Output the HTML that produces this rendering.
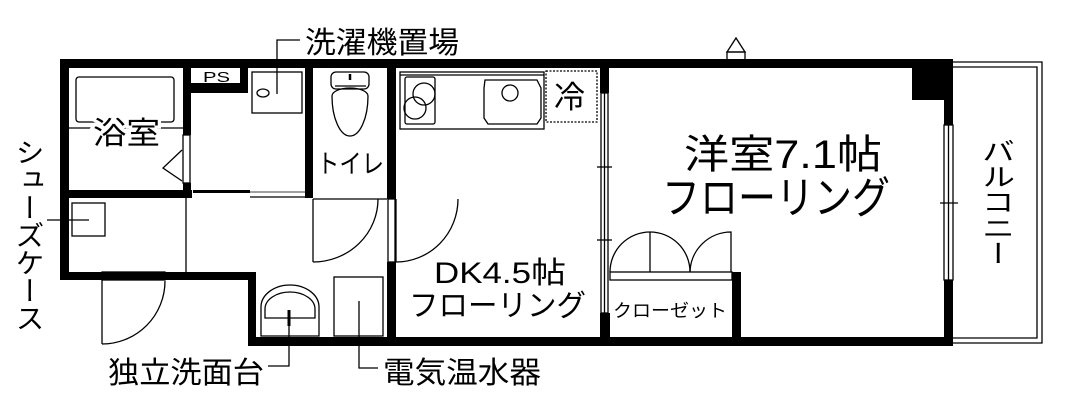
<!DOCTYPE html>
<html><head><meta charset="utf-8"><style>
html,body{margin:0;padding:0;background:#fff;}
svg{display:block}
text{font-family:"Liberation Sans","Noto Sans CJK JP",sans-serif;fill:#000}
</style></head><body>
<svg width="1067" height="401" viewBox="0 0 1067 401" xmlns="http://www.w3.org/2000/svg">
<g fill="#000">
<rect x="60" y="59" width="893" height="9"/>
<rect x="60" y="59" width="9" height="221"/>
<rect x="60" y="272" width="195" height="8"/>
<rect x="248" y="272" width="8" height="74"/>
<rect x="248" y="337" width="705" height="9"/>
<rect x="944" y="59" width="9" height="66"/>
<rect x="944" y="280" width="9" height="66"/>
<rect x="912" y="59" width="41" height="41"/>
<rect x="60" y="190" width="132" height="8"/>
<rect x="183" y="59" width="8" height="76"/>
<rect x="183" y="183" width="8" height="15"/>
<rect x="190" y="83" width="58" height="10"/>
<rect x="240" y="59" width="8" height="34"/>
<rect x="193" y="190" width="57" height="3"/>
<rect x="305" y="59" width="8" height="139"/>
<rect x="387" y="59" width="9" height="140"/>
<rect x="387" y="262" width="9" height="84"/>
<rect x="600" y="59" width="9" height="34"/>
<rect x="600" y="313" width="10" height="33"/>
<rect x="732" y="272" width="9" height="74"/>
</g>
<g fill="none" stroke="#000" stroke-width="1.3">
<rect x="183" y="135" width="7" height="48"/>
<polyline points="182,150 163,168 182,181"/>
<rect x="76" y="77" width="98" height="45" rx="3"/>
<line x1="69" y1="128" x2="183" y2="128"/>
<rect x="252" y="72" width="50" height="41"/>
<ellipse cx="263" cy="93" rx="6" ry="4"/>
<polyline points="277,94 277,40 300,40"/>
<line x1="250" y1="197" x2="305" y2="197"/>
<line x1="250" y1="192" x2="305" y2="192" stroke-width="0.8"/>
<line x1="186" y1="198" x2="186" y2="272"/>
<rect x="72" y="203" width="33" height="33"/>
<polyline points="47,220 89,220"/>
<rect x="102" y="272" width="63" height="8"/>
<line x1="102" y1="280" x2="102" y2="344"/>
<path d="M102,344 A63,63 0 0 0 165,281"/>
<rect x="331" y="72" width="38" height="17" rx="5"/>
<line x1="335" y1="86" x2="366" y2="86"/>
<line x1="350" y1="74" x2="350" y2="80" stroke-width="2.5"/>
<path d="M332,96 A18,40 0 0 0 368,96 A18,8 0 0 0 332,96 Z"/>
<line x1="313" y1="199" x2="387" y2="199"/>
<line x1="313" y1="199" x2="313" y2="262"/>
<path d="M313,262 A65,63 0 0 0 378,199"/>
<line x1="396" y1="199" x2="396" y2="262"/>
<path d="M396,262 A62,63 0 0 0 458,199"/>
<rect x="388" y="199" width="7" height="63"/>
<path d="M261,336 L261,307 A29,22 0 0 1 319,307 L319,336 Z"/>
<path d="M265,318 L265,309 A25,17 0 0 1 315,309 L315,318 Z"/>
<line x1="289" y1="310" x2="289" y2="326" stroke-width="3"/>
<polyline points="289,326 289,366 268,366"/>
<rect x="334" y="277" width="49" height="59"/>
<polyline points="359,301 359,368 378,368"/>
<rect x="400" y="72" width="144" height="57"/>
<line x1="400" y1="75" x2="544" y2="75"/>
<rect x="405" y="77" width="30" height="47" rx="2"/>
<circle cx="424" cy="94" r="11"/>
<circle cx="415" cy="108" r="11"/>
<path d="M485,80 L537,80 L541,88 L541,118 L537,124 L488,124 L484,118 L484,88 Z"/>
<circle cx="510" cy="93" r="8"/>
<rect x="546" y="71" width="51" height="51" stroke-dasharray="2,1.5"/>
<rect x="601" y="93" width="7" height="220"/>
<line x1="604.5" y1="93" x2="604.5" y2="313"/>
<line x1="597" y1="167" x2="612" y2="167"/>
<line x1="597" y1="240" x2="612" y2="240"/>
<rect x="610" y="272" width="122" height="8"/>
<line x1="650" y1="232" x2="650" y2="272"/>
<path d="M610,272 A40,40 0 0 1 650,232 A40,40 0 0 1 690,272"/>
<path d="M690,272 A41,41 0 0 1 731,232 L731,272"/>
<rect x="944" y="125" width="9" height="155"/>
<line x1="948.5" y1="125" x2="948.5" y2="280"/>
<line x1="940" y1="203" x2="958" y2="203"/>
<path d="M953,62 L1042,62 L1042,343 L953,343"/>
<path d="M953,67 L1037,67 L1037,338 L953,338"/>
<polygon points="727,52 736,38 745,52"/>
<rect x="727" y="52" width="18" height="8"/>
</g>
<rect x="192" y="69" width="47" height="14" fill="#fff"/>
<text x="203" y="82" font-size="15" textLength="27" lengthAdjust="spacingAndGlyphs">PS</text>
<text x="305" y="53" font-size="30" textLength="154" lengthAdjust="spacingAndGlyphs">洗濯機置場</text>
<text x="93" y="144" font-size="31" textLength="67" lengthAdjust="spacingAndGlyphs" style="paint-order:stroke" stroke="#fff" stroke-width="6">浴室</text>
<text x="317" y="173" font-size="26" textLength="67" lengthAdjust="spacingAndGlyphs">トイレ</text>
<text x="554" y="108" font-size="31">冷</text>
<text x="434" y="283" font-size="30" textLength="132" lengthAdjust="spacingAndGlyphs">DK4.5帖</text>
<text x="409" y="316" font-size="30" textLength="177" lengthAdjust="spacingAndGlyphs">フローリング</text>
<text x="684" y="168" font-size="40" textLength="198" lengthAdjust="spacingAndGlyphs">洋室7.1帖</text>
<text x="662" y="213" font-size="44" textLength="228" lengthAdjust="spacingAndGlyphs">フローリング</text>
<text x="613" y="317" font-size="18" textLength="114" lengthAdjust="spacingAndGlyphs">クローゼット</text>
<text x="108" y="383" font-size="30" textLength="156" lengthAdjust="spacingAndGlyphs">独立洗面台</text>
<text x="383" y="383" font-size="30" textLength="158" lengthAdjust="spacingAndGlyphs">電気温水器</text>
<text font-size="29" x="27" y="138" style="writing-mode:vertical-rl" textLength="194" lengthAdjust="spacingAndGlyphs">シューズケース</text>
<text font-size="33" x="996" y="138" style="writing-mode:vertical-rl" textLength="128" lengthAdjust="spacingAndGlyphs">バルコニー</text>
</svg>
</body></html>
